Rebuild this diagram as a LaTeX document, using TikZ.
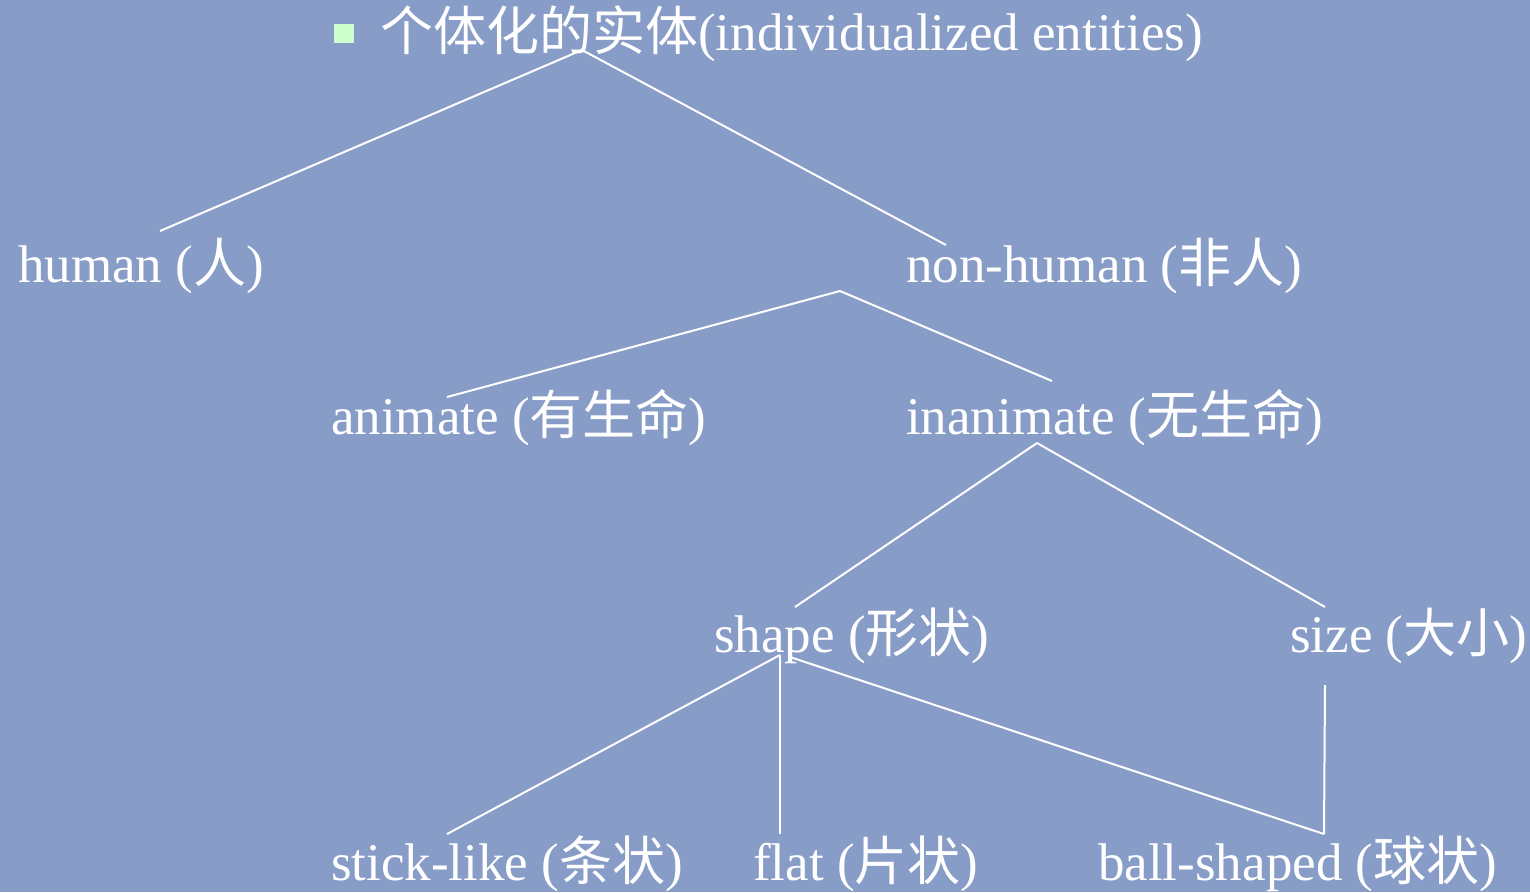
\documentclass[tikz,border=0pt]{standalone}
\usepackage{fontspec}
\setmainfont{Liberation Serif}
\newfontfamily\cjk{Noto Sans CJK SC}
\definecolor{bg}{HTML}{889CC8}
\definecolor{bullet}{HTML}{CCFFCC}
\begin{document}
\begin{tikzpicture}[x=1pt,y=-1pt,
  lbl/.style={anchor=base west,inner sep=0pt,text=white,font=\fontsize{53}{60}\selectfont},
  link/.style={draw=white,line width=2pt}]
\useasboundingbox[fill=bg] (0,0) rectangle (1530,892);
% title
\fill[bullet] (334,24) rectangle (354,43);
\node[lbl] (title) at (380,50) {{\cjk 个体化的实体}(individualized entities)};
\node[lbl] (human) at (18,282) {human ({\cjk 人})};
\node[lbl] (nonhuman) at (906,282) {non-human ({\cjk 非人})};
\node[lbl] (animate) at (331,434) {animate ({\cjk 有生命})};
\node[lbl] (inanimate) at (906,434) {inanimate ({\cjk 无生命})};
\node[lbl] (shape) at (714,652) {shape ({\cjk 形状})};
\node[lbl] (size) at (1290,652) {size ({\cjk 大小})};
\node[lbl] (stick) at (331,880) {stick-like ({\cjk 条状})};
\node[lbl] (flat) at (753,880) {flat ({\cjk 片状})};
\node[lbl] (ball) at (1098,880) {ball-shaped ({\cjk 球状})};
% connector end points
\coordinate (tB) at (582,50);
\coordinate (hT) at (160,231);
\coordinate (nhT) at (946,245);
\coordinate (nhB) at (840,291);
\coordinate (anT) at (447,397);
\coordinate (inT) at (1052,381);
\coordinate (inB) at (1037,443);
\coordinate (shT) at (795,607);
\coordinate (szT) at (1325,607);
\coordinate (shB) at (780,655);
\coordinate (shB2) at (790,657);
\coordinate (szB) at (1325,685);
\coordinate (stT) at (447,834);
\coordinate (flT) at (780,834);
\coordinate (baT) at (1324,834);
\draw[link] (tB) -- (hT);
\draw[link] (tB) -- (nhT);
\draw[link] (nhB) -- (anT);
\draw[link] (nhB) -- (inT);
\draw[link] (inB) -- (shT);
\draw[link] (inB) -- (szT);
\draw[link] (shB) -- (stT);
\draw[link] (shB) -- (flT);
\draw[link] (shB2) -- (baT);
\draw[link] (szB) -- (baT);
\end{tikzpicture}
\end{document}
